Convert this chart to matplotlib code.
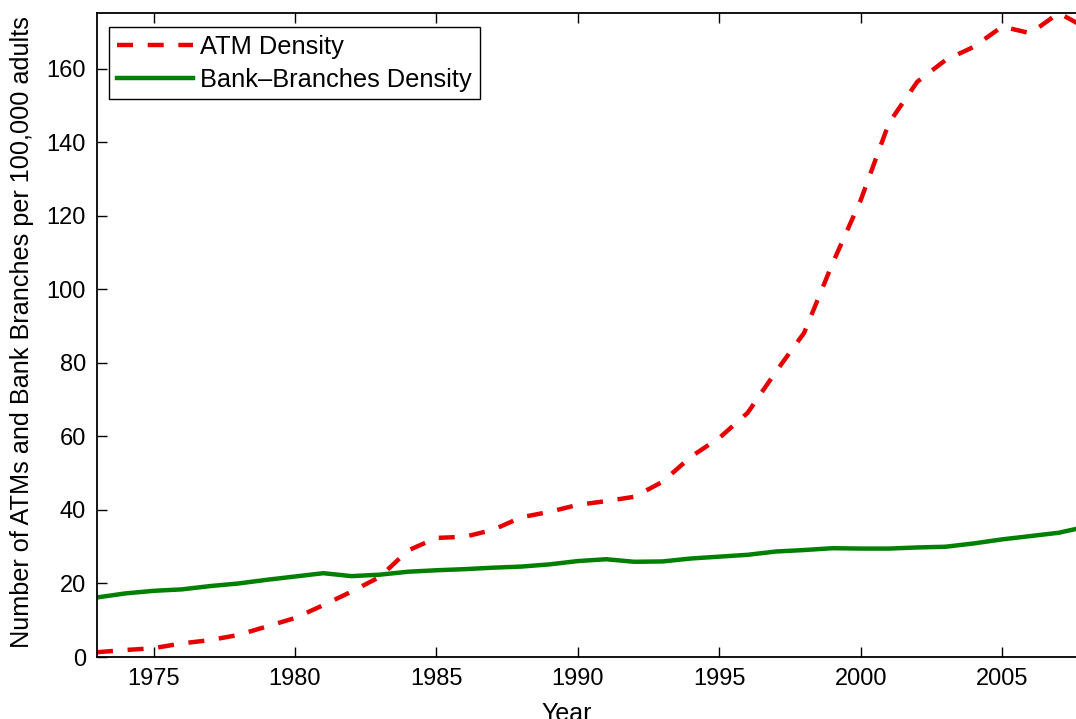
import matplotlib.pyplot as plt

# data
years = list(range(1973, 2009))
atm_density = [1.3, 1.9, 2.4, 3.7, 4.6, 6.0, 8.3, 10.6, 14.1, 17.8,
               21.8, 29.0, 32.4, 32.7, 34.6, 38.0, 39.5, 41.4, 42.4, 43.6,
               47.7, 54.5, 59.6, 66.4, 77.6, 88.2, 107.0, 124.3, 145.3, 156.5,
               162.4, 166.0, 171.5, 169.7, 175.2, 171.0]
branch_density = [16.2, 17.3, 18.0, 18.4, 19.3, 20.0, 21.0, 21.9, 22.8, 22.0,
                  22.4, 23.2, 23.6, 23.9, 24.3, 24.6, 25.2, 26.1, 26.6, 25.9,
                  26.0, 26.8, 27.3, 27.8, 28.7, 29.1, 29.6, 29.5, 29.5, 29.8,
                  30.0, 30.9, 32.0, 32.9, 33.8, 35.5]
xticks = [1975, 1980, 1985, 1990, 1995, 2000, 2005]
yticks = [0, 20, 40, 60, 80, 100, 120, 140, 160]

plt.rcParams['font.family'] = ['Liberation Sans', 'DejaVu Sans']

fig = plt.figure(figsize=(10.76, 7.19), dpi=100)
# axes runs past the right edge of the picture, as in the original crop
ax = fig.add_axes([97 / 1076, 62 / 719, 990 / 1076, 644 / 719])

ax.plot(years, atm_density, color='#e60000', lw=3.2, ls=(0, (3.6, 3.3)),
        label='ATM Density')
ax.plot(years, branch_density, color='#008000', lw=3.2,
        label='Bank\u2013Branches Density')

ax.set_xlim(1973, 2008)
ax.set_ylim(0, 175.2)
ax.set_xticks(xticks)
ax.set_yticks(yticks)
ax.tick_params(direction='in', length=7, width=1, labelsize=17,
               top=True, right=True, pad=8)
for s in ax.spines.values():
    s.set_linewidth(1.3)

ax.set_xlabel('Year', fontsize=18)
ax.set_ylabel('Number of ATMs and Bank Branches per 100,000 adults', fontsize=18.2)
ax.xaxis.set_label_coords(0.474, -0.07)
ax.yaxis.set_label_coords(-0.064, 0.505)

leg = ax.legend(loc='upper left', bbox_to_anchor=(12 / 990, 1 - 14 / 644),
                borderaxespad=0, fontsize=18.3, handlelength=3.0,
                handletextpad=0.3, fancybox=False, framealpha=1,
                edgecolor='black', labelspacing=0.35, borderpad=0.3)
leg.get_frame().set_linewidth(1)

fig.savefig('out.png', dpi=100)
